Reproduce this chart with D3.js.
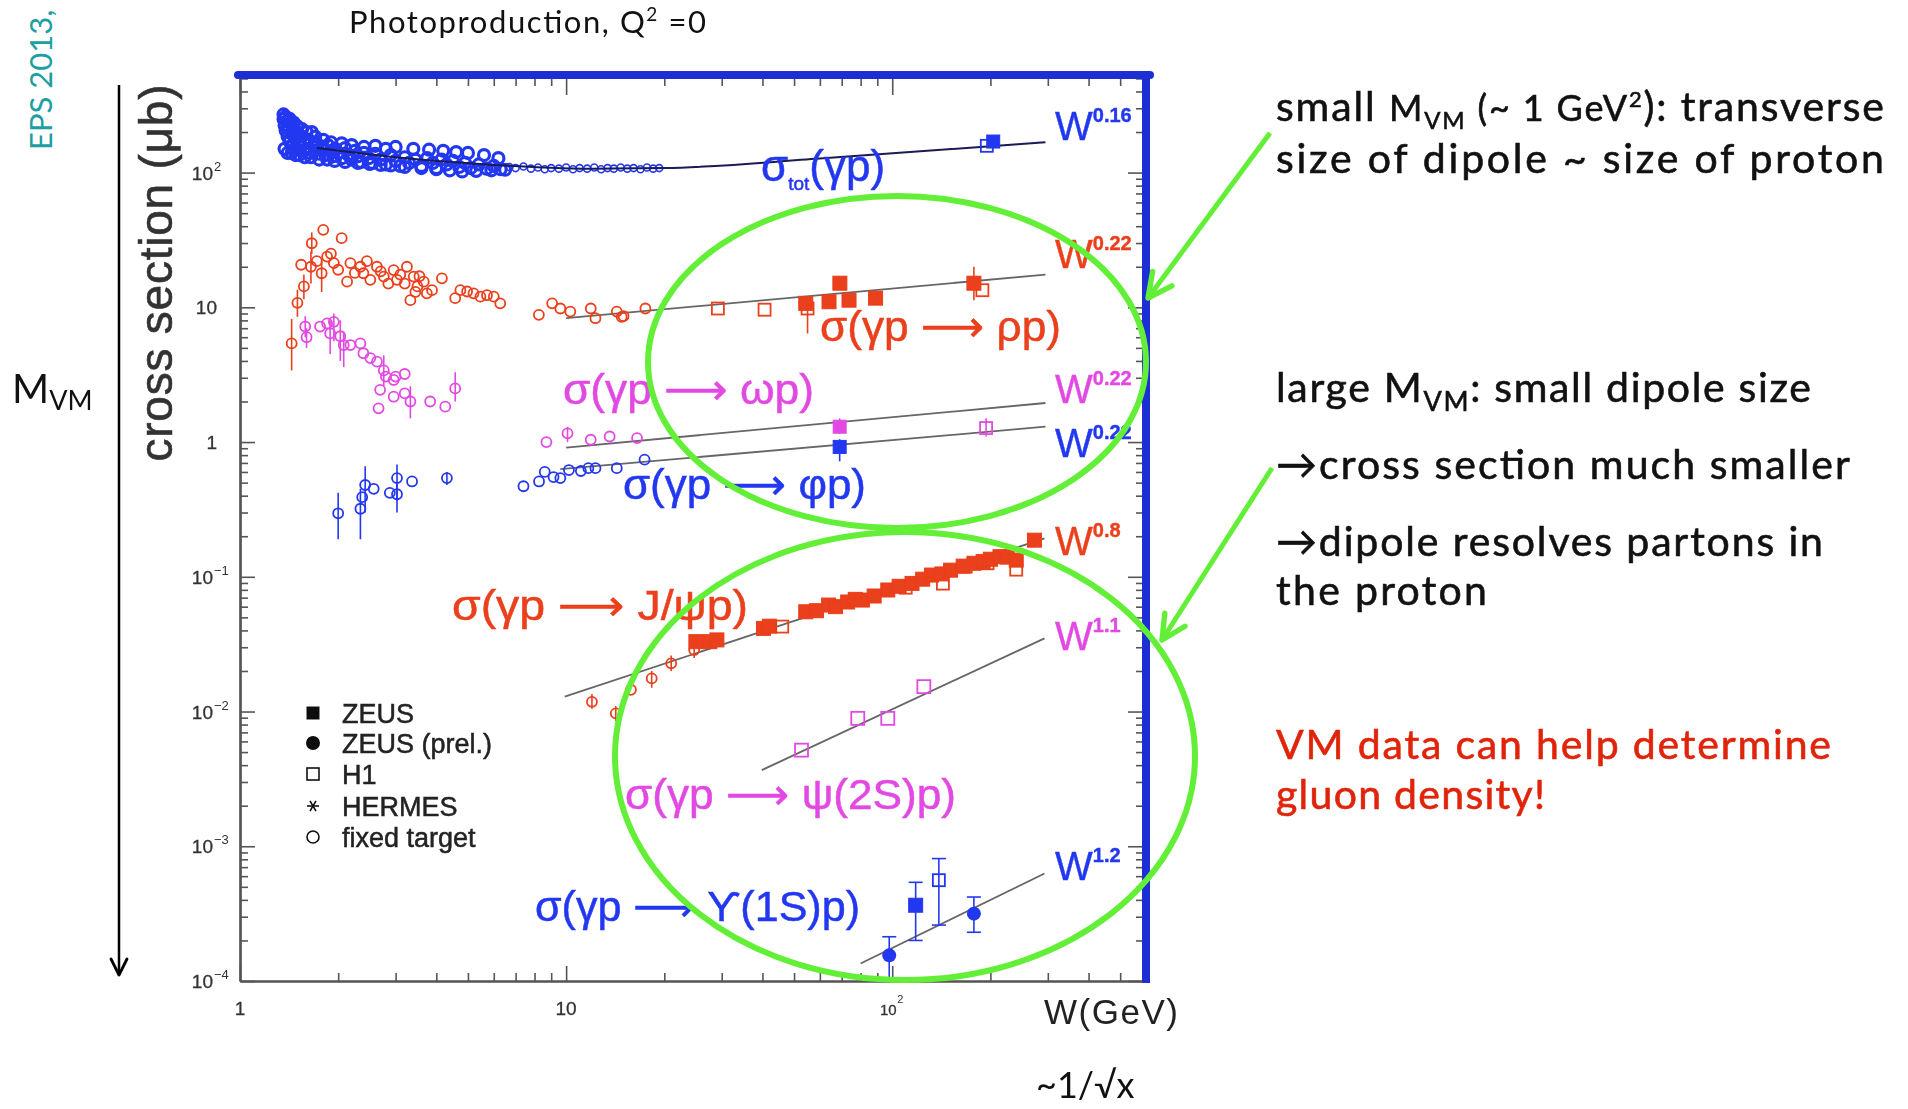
<!DOCTYPE html>
<html>
<head>
<meta charset="utf-8">
<script src="https://cdn.jsdelivr.net/npm/d3@7"></script>
<style>
  body { margin: 0; background: #fff; }
  svg { display: block; }
</style>
</head>
<body>
<svg id="chart" width="1908" height="1109"></svg>
<script>
// ---- data: [W (GeV), sigma (mub), errLo, errHi] ----
const totFixed = [[1.36,250],[1.36,270],[1.37,225],[1.37,150],[1.38,205],[1.38,260],[1.39,240],[1.40,185],[1.40,140],[1.41,215],[1.42,170],[1.42,250],[1.43,230],[1.44,195],[1.44,140],[1.45,160],[1.46,210],[1.46,235],[1.47,180],[1.48,150],[1.48,135],[1.50,200],[1.50,220],[1.52,170],[1.52,135],[1.53,155],[1.55,185],[1.55,210],[1.57,145],[1.58,165],[1.58,130],[1.60,150],[1.60,200],[1.62,175],[1.64,140],[1.65,130],[1.66,200],[1.68,158],[1.70,145],[1.70,185],[1.72,165],[1.75,138],[1.75,125],[1.78,155],[1.80,148],[1.80,175],[1.83,135],[1.85,125],[1.86,160],[1.90,145],[1.90,168],[1.93,132],[1.95,122],[1.96,150],[2.0,140],[2.05,128],[2.05,165],[2.1,152],[2.1,120],[2.15,135],[2.2,125],[2.2,160],[2.25,145],[2.3,132],[2.3,118],[2.35,120],[2.4,140],[2.4,155],[2.48,128],[2.5,116],[2.55,118],[2.6,138],[2.6,158],[2.7,125],[2.7,114],[2.8,115],[2.8,150],[2.9,135],[2.9,113],[3.0,122],[3.0,155],[3.1,112],[3.2,130],[3.2,110],[3.3,118],[3.4,150],[3.45,125],[3.6,112],[3.6,108],[3.75,128],[3.8,148],[3.9,118],[4.0,108],[4.0,106],[4.15,125],[4.2,145],[4.3,115],[4.4,104],[4.5,122],[4.6,142],[4.7,110],[4.8,102],[4.9,118],[5.0,140],[5.1,108],[5.3,103],[5.4,115],[5.6,135],[5.7,107],[5.9,104],[6.0,112],[6.2,128],[6.3,106],[6.5,105],[6.7,110],[7.0,108],[7.4,111],[7.8,107],[8.2,109],[8.6,106],[9.0,108],[9.5,107],[10,109],[10.5,106],[11,108],[11.6,107],[12.2,109],[12.8,106],[13.4,108],[14,107],[14.7,109],[15.4,107],[16.1,108],[16.9,106],[17.7,109],[18.5,107],[19.3,108]];
const totZeus = [[204,170]];
const totH1 = [[195,158]];

const rhoFixed = [[1.44,5.4,3.4,8.2],[1.50,10.8,8.5,13.5],[1.54,20.7],[1.57,14.3,11.5,17.5],[1.65,20,15,26],[1.66,29.9,25,36],[1.72,22],[1.78,17.9,13,22],[1.80,37.6],[1.85,23.8],[1.90,25],[1.94,21.3],[2.0,19],[2.05,32.6],[2.13,15.5],[2.18,21.3],[2.25,18],[2.34,20],[2.39,17.9],[2.45,22],[2.51,16],[2.63,20],[2.70,18.5],[2.76,16.9],[2.85,15],[2.96,18.9],[3.03,16],[3.10,17.5],[3.20,15],[3.25,20],[3.33,11.3],[3.41,16.9],[3.45,13],[3.50,14.3],[3.55,17],[3.66,15.5],[3.74,12.7],[3.88,13.4],[4.16,16.4],[4.57,11.7],[4.74,13.4],[4.97,13.1],[5.2,12.7],[5.46,12],[5.72,12.3],[6.0,12],[6.28,10.7],[8.25,8.8],[9.06,10.7],[9.6,9.8],[10.3,9.3],[11.9,9.8],[12.3,8.3],[14.3,9.3],[14.8,8.5],[15.0,8.6],[17.5,9.8]];
const rhoZeus = [[54.3,10.7],[64,11],[69.1,15.1],[73.7,11.3],[88.9,11.7],[178,15.1,11.3,20]];
const rhoH1 = [[29.2,9.8],[40.6,9.6],[55,9.8,6.4,12],[189,13.4]];

const omegaFixed = [[1.585,7.2,6,8.6],[1.60,6.0,5,7],[1.76,7.2],[1.85,7.6],[1.89,6.4,4.5,8],[1.94,7.8,5.6,9],[2.03,6.1,4,8],[2.08,5.25,3.6,6.6],[2.18,5.25],[2.34,5.4],[2.39,4.56],[2.51,4.2],[2.63,3.95],[2.66,1.78],[2.69,2.44],[2.76,3.4,2.6,4.4],[2.80,3.06],[2.96,2.89],[2.96,2.17],[3.0,3.06],[3.2,3.2],[3.2,2.3],[3.33,2.0,1.5,2.6],[3.83,2.0],[4.26,1.83],[4.57,2.5,2.0,3.3],[8.7,1.0],[10.1,1.16,1.0,1.3],[11.9,1.04],[13.6,1.1],[16.5,1.07]];
const omegaZeus = [[69,1.30,1.15,1.5]];
const omegaH1 = [[194,1.27,1.1,1.5]];

const phiFixed = [[2.0,0.296,0.19,0.42],[2.34,0.32,0.19,0.45],[2.37,0.39],[2.42,0.48,0.3,0.66],[2.57,0.45],[2.88,0.42],[3.03,0.54,0.37,0.68],[3.03,0.41,0.3,0.5],[3.37,0.51],[4.31,0.54,0.48,0.6],[7.4,0.47],[8.26,0.51],[8.6,0.60],[9.15,0.55],[9.6,0.54],[10.2,0.62],[11.1,0.61],[11.7,0.64],[12.3,0.64],[14.3,0.64],[17.4,0.74]];
const phiZeus = [[69,0.92,0.72,1.05]];

const psiFixed = [[12.0,0.0118,0.0105,0.0135],[14.2,0.0097,0.0085,0.011],[15.8,0.0145],[18.3,0.0176,0.015,0.02],[21.0,0.0228,0.02,0.026],[24.7,0.0286,0.025,0.032]];
const psiZeus = [[25,0.033],[27.6,0.033],[29,0.034],[40.3,0.0414],[42,0.043],[54.3,0.055],[58.6,0.056],[63.8,0.0617],[67,0.060],[73,0.065],[77,0.068],[81,0.0672],[88,0.072],[96.9,0.0798],[105,0.085],[115,0.0893],[124,0.096],[132,0.103],[142,0.105],[151,0.112],[165,0.12],[178,0.126],[190,0.13],[200,0.135],[214,0.141],[225,0.14],[240,0.133],[273,0.187]];
const psiH1 = [[46,0.0427],[110,0.083],[143,0.089],[168,0.119],[196,0.126],[240,0.113]];

const psi2sH1 = [[52.7,0.00517],[78.4,0.0089],[96.9,0.0089],[125,0.0153]];

const upsZeus = [[118,0.000365,0.0002,0.00054]];
const upsZeusPrel = [[97.9,0.000155,0.000105,0.000213],[178,0.000316,0.00023,0.00042]];
const upsH1 = [[139,0.00056,0.00026,0.00081]];

// fitted power laws, end points
const fitTot = [[1.72,152],[3,130],[6,114],[12,107],[20,108],[60,127],[295,168]];
const fitRho = [[10,8.3],[295,17.5]];
const fitOmega = [[10,0.91],[295,1.95]];
const fitPhi = [[9.6,0.63],[295,1.3]];
const fitPsi = [[9.9,0.0129],[293,0.193]];
const fitPsi2s = [[39.8,0.00367],[293,0.0349]];
const fitUps = [[80,0.000135],[293,0.000628]];

const powers = ["0.16", "0.22", "0.22", "0.22", "0.8", "1.1", "1.2"];
const legendNames = ["ZEUS", "ZEUS (prel.)", "H1", "HERMES", "fixed target"];
const yTickLabels = [[1e-4, "10", "\u22124"], [1e-3, "10", "\u22123"], [1e-2, "10", "\u22122"], [1e-1, "10", "\u22121"], [1, "1", ""], [10, "10", ""], [100, "10", "2"]];
const xTickLabels = [[1, "1", ""], [10, "10", ""], [100, "10", "2"]];

// ---- colours ----
const BLUE = "#2438f0", RED = "#ea3f1c", MAG = "#e24ae2", GREEN = "#63ef37", FRAME = "#1c2fd4";
const plotFont = "'Liberation Sans', 'DejaVu Sans', Arial, sans-serif";
const slideFont = "Lato, 'Open Sans', sans-serif";

const svg = d3.select("#chart");
const defs = svg.append("defs");
defs.append("filter").attr("id", "soft")
    .attr("x", "-5%").attr("y", "-5%").attr("width", "110%").attr("height", "110%")
    .append("feGaussianBlur").attr("stdDeviation", 0.7);

function arrowMarker(id, color, size, sw) {
    defs.append("marker").attr("id", id)
        .attr("viewBox", "0 0 10 10").attr("refX", 9).attr("refY", 5)
        .attr("markerWidth", size).attr("markerHeight", size)
        .attr("markerUnits", "userSpaceOnUse").attr("orient", "auto")
        .append("path").attr("d", "M1,1 L9,5 L1,9")
        .attr("fill", "none").attr("stroke", color).attr("stroke-width", sw)
        .attr("stroke-linecap", "round").attr("stroke-linejoin", "round");
}
arrowMarker("headGreen", GREEN, 30, 1.8);
arrowMarker("headBlack", "#000", 20, 1.4);

// scales
const x = d3.scaleLog().domain([1, 600]).range([240, 1146]);
const y = d3.scaleLog().domain([1e-4, 530]).range([981, 75]);

const isMajor = v => Math.abs(Math.log10(v) - Math.round(Math.log10(v))) < 1e-9;
const xMaj = x.ticks().filter(isMajor), xMin = x.ticks().filter(v => !isMajor(v));
const yMaj = y.ticks().filter(isMajor), yMin = y.ticks().filter(v => !isMajor(v));

const g = svg.append("g").attr("filter", "url(#soft)");

// axes (ticks point inward)
const axisStyle = sel => sel
    .call(s => s.selectAll(".tick line").attr("stroke", "#555").attr("stroke-width", 1.6))
    .call(s => s.selectAll(".domain").attr("stroke", "#555").attr("stroke-width", 2.2));

g.append("g").attr("transform", "translate(0,981)")
    .call(d3.axisTop(x).tickValues(xMaj).tickSize(15).tickSizeOuter(0).tickFormat(""))
    .call(axisStyle);
g.append("g").attr("transform", "translate(0,981)")
    .call(d3.axisTop(x).tickValues(xMin).tickSize(8).tickSizeOuter(0).tickFormat(""))
    .call(axisStyle);
g.append("g").attr("transform", "translate(240,0)")
    .call(d3.axisRight(y).tickValues(yMaj).tickSize(15).tickSizeOuter(0).tickFormat(""))
    .call(axisStyle);
g.append("g").attr("transform", "translate(240,0)")
    .call(d3.axisRight(y).tickValues(yMin).tickSize(8).tickSizeOuter(0).tickFormat(""))
    .call(axisStyle);
g.append("g").attr("transform", "translate(0,75)")
    .call(d3.axisBottom(x).tickValues(xMaj).tickSize(20).tickFormat(""))
    .call(axisStyle).call(s => s.select(".domain").remove());
g.append("g").attr("transform", "translate(0,75)")
    .call(d3.axisBottom(x).tickValues(xMin).tickSize(11).tickFormat(""))
    .call(axisStyle).call(s => s.select(".domain").remove());
g.append("g").attr("transform", "translate(1146,0)")
    .call(d3.axisLeft(y).tickValues(yMaj).tickSize(18).tickFormat(""))
    .call(axisStyle).call(s => s.select(".domain").remove());
g.append("g").attr("transform", "translate(1146,0)")
    .call(d3.axisLeft(y).tickValues(yMin).tickSize(10).tickFormat(""))
    .call(axisStyle).call(s => s.select(".domain").remove());

// tick labels
yTickLabels.forEach(([v, base, sup]) => {
    const right = sup ? 213 : 217;
    g.append("text").attr("x", right).attr("y", y(v) + 7)
        .attr("text-anchor", "end").attr("font-family", plotFont).attr("font-size", 19)
        .attr("fill", "#333").attr("stroke", "#333").attr("stroke-width", 0.3).text(base);
    if (sup) g.append("text").attr("x", right + 1).attr("y", y(v) - 2)
        .attr("font-family", plotFont).attr("font-size", 13).attr("fill", "#333").text(sup);
});
xTickLabels.forEach(([v, base, sup]) => {
    const fs = sup ? 15 : 19;
    g.append("text").attr("x", x(v) - (sup ? 4 : 0)).attr("y", 1015)
        .attr("text-anchor", "middle").attr("font-family", plotFont).attr("font-size", fs)
        .attr("fill", "#333").attr("stroke", "#333").attr("stroke-width", 0.3).text(base);
    if (sup) g.append("text").attr("x", x(v) + 5).attr("y", 1003)
        .attr("font-family", plotFont).attr("font-size", 11).attr("fill", "#333").text(sup);
});

// axis titles
g.append("text").attr("transform", "translate(172,273) rotate(-90)")
    .attr("text-anchor", "middle").attr("font-family", plotFont).attr("font-size", 46)
    .attr("textLength", 377).attr("fill", "#333").attr("stroke", "#333").attr("stroke-width", 0.6)
    .text("cross section (\u03bcb)");
g.append("text").attr("x", 1044).attr("y", 1024)
    .attr("font-family", plotFont).attr("font-size", 35).attr("textLength", 134)
    .attr("fill", "#222").text("W(GeV)");

// fit lines
const line = d3.line().x(d => x(d[0])).y(d => y(d[1]));
const lineCurve = d3.line().x(d => x(d[0])).y(d => y(d[1])).curve(d3.curveMonotoneX);
[fitRho, fitOmega, fitPhi, fitPsi, fitPsi2s, fitUps].forEach(f => {
    g.append("path").datum(f).attr("d", line)
        .attr("fill", "none").attr("stroke", "#666").attr("stroke-width", 1.8);
});

// markers
function errorBars(data, color, caps) {
    const e = data.filter(d => d.length > 2);
    g.append("g").selectAll("line").data(e).join("line")
        .attr("x1", d => x(d[0])).attr("x2", d => x(d[0]))
        .attr("y1", d => y(d[2])).attr("y2", d => y(d[3]))
        .attr("stroke", color).attr("stroke-width", 1.6);
    if (caps) {
        [2, 3].forEach(k => {
            g.append("g").selectAll("line").data(e).join("line")
                .attr("x1", d => x(d[0]) - 7).attr("x2", d => x(d[0]) + 7)
                .attr("y1", d => y(d[k])).attr("y2", d => y(d[k]))
                .attr("stroke", color).attr("stroke-width", 1.6);
        });
    }
}
function openCircles(data, color, rule) {
    errorBars(data, color);
    g.append("g").selectAll("circle").data(data).join("circle")
        .attr("cx", d => x(d[0])).attr("cy", d => y(d[1]))
        .attr("r", d => rule ? rule(d).r : 5)
        .attr("fill", "none").attr("stroke", color)
        .attr("stroke-width", d => rule ? rule(d).w : 1.8);
}
function squares(data, color, filled, size, caps) {
    errorBars(data, color, caps);
    g.append("g").selectAll("rect").data(data).join("rect")
        .attr("x", d => x(d[0]) - size / 2).attr("y", d => y(d[1]) - size / 2)
        .attr("width", size).attr("height", size)
        .attr("fill", filled ? color : "none").attr("stroke", color)
        .attr("stroke-width", filled ? 1 : 1.8);
}
function dots(data, color, r, caps) {
    errorBars(data, color, caps);
    g.append("g").selectAll("circle").data(data).join("circle")
        .attr("cx", d => x(d[0])).attr("cy", d => y(d[1])).attr("r", r).attr("fill", color);
}

openCircles(totFixed, BLUE, d => d[0] < 6.6 ? { r: 5.5, w: 3.2 } : { r: 3.5, w: 1.6 });
g.append("path").datum(fitTot).attr("d", lineCurve)
    .attr("fill", "none").attr("stroke", "#1a1a55").attr("stroke-width", 2);
squares(totH1, BLUE, false, 12);
squares(totZeus, BLUE, true, 13);

openCircles(rhoFixed, RED);
squares(rhoH1, RED, false, 12);
squares(rhoZeus, RED, true, 14);

openCircles(omegaFixed, MAG);
squares(omegaH1, MAG, false, 12);
squares(omegaZeus, MAG, true, 13);

openCircles(phiFixed, BLUE);
squares(phiZeus, BLUE, true, 13);

openCircles(psiFixed, RED);
squares(psiH1, RED, false, 12);
squares(psiZeus, RED, true, 14);

squares(psi2sH1, MAG, false, 13);

dots(upsZeusPrel, BLUE, 7, true);
squares(upsZeus, BLUE, true, 14, true);
squares(upsH1, BLUE, false, 12, true);

// process labels
function procLabel(label, xPos, yBase, color, len) {
    return g.append("text").attr("x", xPos).attr("y", yBase)
        .attr("font-family", plotFont).attr("font-size", 43).attr("fill", color)
        .attr("stroke", color).attr("stroke-width", 0.5)
        .attr("textLength", len).attr("lengthAdjust", "spacingAndGlyphs").text(label);
}
const tot = g.append("text").attr("x", 761).attr("y", 181)
    .attr("font-family", plotFont).attr("font-size", 44).attr("fill", BLUE)
    .attr("stroke", BLUE).attr("stroke-width", 0.5);
tot.append("tspan").text("\u03c3");
tot.append("tspan").attr("font-size", 19).attr("dy", 9).text("tot");
tot.append("tspan").attr("dy", -9).text("(\u03b3p)");

const ARROW = "\u27f6";
procLabel(`\u03c3(\u03b3p ${ARROW} \u03c1p)`, 820, 341, RED, 241);
procLabel(`\u03c3(\u03b3p ${ARROW} \u03c9p)`, 563, 404, MAG, 251);
procLabel(`\u03c3(\u03b3p ${ARROW} \u03c6p)`, 623, 499, BLUE, 243);
procLabel(`\u03c3(\u03b3p ${ARROW} J/\u03c8p)`, 452, 620, RED, 296);
procLabel(`\u03c3(\u03b3p ${ARROW} \u03c8(2S)p)`, 625, 809, MAG, 331);
procLabel(`\u03c3(\u03b3p ${ARROW} \u03d2(1S)p)`, 535, 921, BLUE, 325);

// W^n labels at the right end of each fit
const powBase = [140, 268, 403, 457, 555, 650, 880];
const powColor = [BLUE, RED, MAG, BLUE, RED, MAG, BLUE];
powers.forEach((p, i) => {
    const t = g.append("text").attr("x", 1055).attr("y", powBase[i])
        .attr("font-family", plotFont).attr("font-size", 40).attr("fill", powColor[i])
        .attr("stroke", powColor[i]).attr("stroke-width", 0.4);
    t.append("tspan").text("W");
    t.append("tspan").attr("font-size", 20).attr("font-weight", "bold").attr("dy", -18).text(p);
});

// legend
const lg = g.append("g").attr("transform", "translate(313,0)");
const rowY = [713, 743, 774, 806, 837];
lg.append("rect").attr("x", -6.5).attr("y", rowY[0] - 6.5).attr("width", 13).attr("height", 13).attr("fill", "#111");
lg.append("circle").attr("cx", 0).attr("cy", rowY[1]).attr("r", 7).attr("fill", "#111");
lg.append("rect").attr("x", -6).attr("y", rowY[2] - 6).attr("width", 12).attr("height", 12)
    .attr("fill", "none").attr("stroke", "#111").attr("stroke-width", 1.6);
[0, 60, 120].forEach(a => {
    const r = a * Math.PI / 180;
    lg.append("line").attr("x1", -6 * Math.cos(r)).attr("y1", rowY[3] - 6 * Math.sin(r))
        .attr("x2", 6 * Math.cos(r)).attr("y2", rowY[3] + 6 * Math.sin(r))
        .attr("stroke", "#111").attr("stroke-width", 1.6);
});
lg.append("circle").attr("cx", 0).attr("cy", rowY[4]).attr("r", 6)
    .attr("fill", "none").attr("stroke", "#111").attr("stroke-width", 1.6);
lg.selectAll(".lt").data(legendNames).join("text").attr("class", "lt")
    .attr("x", 29).attr("y", (d, i) => rowY[i] + 10)
    .attr("font-family", plotFont).attr("font-size", 27).attr("fill", "#222")
    .attr("stroke", "#222").attr("stroke-width", 0.5)
    .text(d => d);

// blue frame (top and right) drawn over the plot
svg.append("line").attr("x1", 238).attr("x2", 1150).attr("y1", 75).attr("y2", 75)
    .attr("stroke", FRAME).attr("stroke-width", 8).attr("stroke-linecap", "round");
svg.append("line").attr("x1", 1146).attr("x2", 1146).attr("y1", 72).attr("y2", 983)
    .attr("stroke", FRAME).attr("stroke-width", 8);

// green highlight ellipses and arrows
svg.append("ellipse").attr("cx", 897).attr("cy", 362).attr("rx", 249).attr("ry", 166)
    .attr("fill", "none").attr("stroke", GREEN).attr("stroke-width", 6);
svg.append("ellipse").attr("cx", 905).attr("cy", 756).attr("rx", 290).attr("ry", 224)
    .attr("fill", "none").attr("stroke", GREEN).attr("stroke-width", 6);
svg.append("line").attr("x1", 1270).attr("y1", 133).attr("x2", 1148).attr("y2", 298)
    .attr("stroke", GREEN).attr("stroke-width", 5).attr("marker-end", "url(#headGreen)");
svg.append("line").attr("x1", 1272).attr("y1", 468).attr("x2", 1162).attr("y2", 640)
    .attr("stroke", GREEN).attr("stroke-width", 5).attr("marker-end", "url(#headGreen)");

// slide texts
const title = svg.append("text").attr("x", 349).attr("y", 33)
    .attr("font-family", slideFont).attr("font-size", 31).attr("fill", "#111")
    .attr("textLength", 357);
title.append("tspan").text("Photoproduction, Q");
title.append("tspan").attr("font-size", 19).attr("dy", -12).text("2");
title.append("tspan").attr("dy", 12).text(" =0");

svg.append("text").attr("transform", "translate(52,150) rotate(-90)")
    .attr("font-family", slideFont).attr("font-size", 31).attr("fill", "#1c9ea3")
    .text("EPS 2013,");

const mvm = svg.append("text").attr("x", 12).attr("y", 403)
    .attr("font-family", slideFont).attr("font-size", 40).attr("fill", "#111");
mvm.append("tspan").text("M");
mvm.append("tspan").attr("font-size", 27).attr("dy", 7).text("VM");

svg.append("line").attr("x1", 119).attr("x2", 119).attr("y1", 85).attr("y2", 975)
    .attr("stroke", "#000").attr("stroke-width", 2.5).attr("marker-end", "url(#headBlack)");

svg.append("text").attr("x", 1036).attr("y", 1098)
    .attr("font-family", slideFont).attr("font-size", 36).attr("fill", "#111")
    .text("~1/\u221ax");

function slideLine(parts, yBase, len, color) {
    const t = svg.append("text").attr("x", 1276).attr("y", yBase)
        .attr("font-family", slideFont).attr("font-size", 41).attr("fill", color || "#111")
        .attr("stroke", color || "#111").attr("stroke-width", 0.6)
        .attr("textLength", len);
    parts.forEach(p => {
        const s = t.append("tspan").text(p.t);
        if (p.fs) s.attr("font-size", p.fs);
        if (p.dy) s.attr("dy", p.dy);
    });
}
slideLine([{ t: "small " }, { t: "M", fs: 36 }, { t: "VM", fs: 24, dy: 8 }, { t: " (~ 1 GeV", fs: 36, dy: -8 },
    { t: "2", fs: 22, dy: -14 }, { t: "): transverse", dy: 14 }], 121, 608);
slideLine([{ t: "size of dipole  ~ size of proton" }], 173, 608);
slideLine([{ t: "large M" }, { t: "VM", fs: 27, dy: 9 }, { t: ": small dipole size", dy: -9 }], 402, 535);
slideLine([{ t: "\u2192cross section much smaller" }], 479, 574);
slideLine([{ t: "\u2192dipole resolves partons in" }], 556, 547);
slideLine([{ t: "the proton" }], 605, 211);
slideLine([{ t: "VM data can help determine" }], 759, 555, "#e0240a");
slideLine([{ t: "gluon density!" }], 809, 269, "#e0240a");
</script>
</body>
</html>
